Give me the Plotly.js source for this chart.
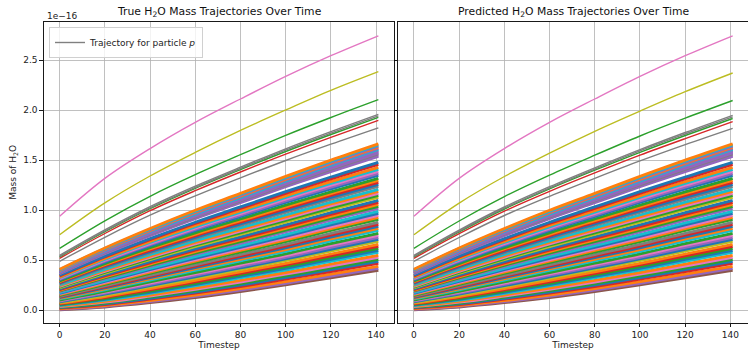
<!DOCTYPE html>
<html><head><meta charset="utf-8">
<script src="https://cdn.plot.ly/plotly-3.0.1.min.js"></script>
<style>html,body{margin:0;padding:0;background:#fff}#chart{width:748px;height:350px}</style>
</head><body><div id="chart"></div>
<script>
// ---- data (mass in units of 1e-16) ----
const timesteps = [0, 20, 40, 60, 80, 100, 120, 141];

// large, well-separated particles (True)
const trueP1 = [0.94, 1.319, 1.617, 1.879, 2.113, 2.339, 2.546, 2.745];
const trueP2 = [0.756, 1.074, 1.343, 1.579, 1.799, 2.003, 2.199, 2.386];
const trueP3 = [0.62, 0.895, 1.14, 1.356, 1.556, 1.749, 1.928, 2.106];
const trueP4 = [0.55, 0.804, 1.036, 1.241, 1.431, 1.615, 1.787, 1.96];
const trueP5 = [0.54, 0.793, 1.025, 1.228, 1.418, 1.601, 1.772, 1.945];
const trueP6 = [0.535, 0.786, 1.016, 1.219, 1.407, 1.588, 1.758, 1.93];
const trueP7 = [0.52, 0.768, 0.996, 1.196, 1.383, 1.562, 1.73, 1.90];
const trueP8 = [0.49, 0.73, 0.951, 1.144, 1.324, 1.498, 1.661, 1.825];

// same particles (Predicted)
const predP1 = [0.94, 1.319, 1.617, 1.879, 2.113, 2.339, 2.546, 2.745];
const predP2 = [0.756, 1.072, 1.338, 1.572, 1.79, 1.992, 2.186, 2.373];
const predP3 = [0.62, 0.893, 1.137, 1.352, 1.551, 1.743, 1.921, 2.098];
const predP4 = [0.55, 0.802, 1.033, 1.236, 1.425, 1.607, 1.778, 1.95];
const predP5 = [0.54, 0.791, 1.022, 1.224, 1.412, 1.594, 1.763, 1.935];
const predP6 = [0.535, 0.784, 1.013, 1.214, 1.401, 1.58, 1.748, 1.918];
const predP7 = [0.52, 0.766, 0.992, 1.19, 1.374, 1.551, 1.717, 1.886];
const predP8 = [0.49, 0.728, 0.948, 1.14, 1.32, 1.494, 1.657, 1.82];

// dense band of smaller particles (same in both panels)
const bandMass = [
 [.005,.033,.076,.127,.187,.254,.325,.40],
 [.010,.040,.086,.140,.201,.270,.343,.42],
 [.015,.048,.096,.152,.216,.287,.361,.44],
 [.022,.058,.111,.171,.238,.311,.388,.47],
 [.026,.065,.120,.183,.252,.327,.406,.49],
 [.031,.073,.131,.196,.268,.344,.425,.51],
 [.036,.081,.142,.209,.283,.361,.443,.53],
 [.041,.089,.153,.223,.300,.378,.461,.55],
 [.048,.101,.169,.244,.324,.403,.489,.58],
 [.053,.109,.180,.256,.339,.420,.508,.60],
 [.059,.118,.192,.270,.354,.437,.526,.62],
 [.065,.128,.204,.285,.369,.454,.545,.64],
 [.071,.138,.216,.299,.385,.470,.563,.66],
 [.079,.150,.234,.319,.407,.496,.592,.69],
 [.085,.161,.246,.334,.423,.513,.610,.71],
 [.091,.171,.259,.349,.439,.529,.629,.73],
 [.097,.181,.272,.363,.455,.547,.648,.75],
 [.103,.190,.284,.377,.471,.564,.667,.77],
 [.113,.204,.302,.398,.494,.590,.695,.80],
 [.120,.215,.314,.413,.510,.607,.714,.82],
 [.127,.225,.326,.427,.526,.625,.732,.84],
 [.133,.233,.338,.441,.542,.642,.751,.86],
 [.140,.244,.350,.455,.557,.659,.770,.88],
 [.150,.259,.369,.477,.582,.686,.798,.91],
 [.157,.268,.381,.492,.598,.704,.817,.93],
 [.163,.278,.393,.505,.613,.721,.835,.95],
 [.170,.288,.406,.520,.630,.739,.854,.97],
 [.177,.298,.418,.536,.646,.757,.874,.99],
 [.187,.314,.437,.558,.670,.783,.902,1.02],
 [.193,.323,.450,.572,.687,.801,.921,1.04],
 [.200,.333,.462,.587,.703,.819,.940,1.06],
 [.207,.343,.474,.601,.719,.836,.959,1.08],
 [.214,.353,.487,.615,.735,.855,.977,1.10],
 [.225,.369,.506,.637,.759,.881,1.006,1.13],
 [.232,.379,.517,.651,.775,.898,1.024,1.15],
 [.239,.389,.530,.665,.791,.917,1.043,1.17],
 [.246,.399,.542,.679,.807,.934,1.063,1.19],
 [.254,.410,.556,.695,.824,.953,1.081,1.21],
 [.264,.425,.574,.716,.848,.979,1.109,1.24],
 [.271,.435,.586,.730,.863,.997,1.128,1.26],
 [.279,.446,.600,.745,.881,1.016,1.148,1.28],
 [.286,.456,.613,.760,.896,1.033,1.167,1.30],
 [.293,.467,.626,.775,.913,1.052,1.185,1.32],
 [.304,.482,.644,.796,.937,1.078,1.214,1.35],
 [.311,.491,.655,.809,.952,1.095,1.232,1.37],
 [.318,.500,.666,.822,.967,1.111,1.251,1.39],
 [.325,.509,.678,.835,.981,1.128,1.269,1.41],
 [.332,.519,.689,.848,.996,1.145,1.287,1.43],
 [.343,.533,.706,.868,1.019,1.170,1.315,1.46],
 [.350,.542,.717,.881,1.034,1.186,1.333,1.48],
 [.365,.565,.747,.917,1.076,1.235,1.387,1.54],
 [.369,.570,.753,.925,1.084,1.244,1.397,1.551],
 [.373,.575,.760,.932,1.093,1.254,1.408,1.563],
 [.377,.580,.766,.940,1.101,1.263,1.418,1.574],
 [.381,.586,.772,.947,1.109,1.272,1.428,1.585],
 [.385,.591,.779,.955,1.118,1.282,1.439,1.597],
 [.390,.597,.786,.962,1.127,1.291,1.450,1.608],
 [.394,.602,.792,.970,1.135,1.301,1.460,1.619],
 [.398,.608,.799,.978,1.144,1.310,1.471,1.631],
 [.402,.613,.805,.985,1.152,1.320,1.481,1.642],
 [.406,.618,.811,.992,1.160,1.329,1.491,1.653],
 [.410,.623,.818,1.000,1.169,1.339,1.502,1.665]
];

const xTicks = [0, 20, 40, 60, 80, 100, 120, 140];
const yTicks = [0, 0.5, 1.0, 1.5, 2.0, 2.5];
const yTickText = ['0.0', '0.5', '1.0', '1.5', '2.0', '2.5'];

// ---- styles ----
const tab10 = ['#1f77b4','#ff7f0e','#2ca02c','#d62728','#9467bd','#8c564b','#e377c2','#7f7f7f','#bcbd22','#17becf'];
const outlierColors = [6, 8, 2, 7, 7, 2, 3, 7];
const bandColorSeq = [5,4,1,3,0,2,6,1,9,0, 2,3,1,8,0,4,6,2,9,1, 0,3,7,2,1,6,0,9,4,2, 1,3,0,8,2,6,1,9,7,0, 3,1,2,0,4,6,9,1,3,0, 4,4,7,4,4,4,9,4,1,4,9,1];
const FONT = 'DejaVu Sans, sans-serif';

const trueOut = [trueP1,trueP2,trueP3,trueP4,trueP5,trueP6,trueP7,trueP8];
const predOut = [predP1,predP2,predP3,predP4,predP5,predP6,predP7,predP8];

const traces = [];
function addPanel(outliers, xa, ya) {
  bandMass.forEach((m, k) => {
    traces.push({x: timesteps, y: m, xaxis: xa, yaxis: ya, mode: 'lines', showlegend: false, hoverinfo: 'skip',
      line: {color: tab10[bandColorSeq[k % bandColorSeq.length]], width: 2.8, shape: 'spline', smoothing: 1}});
  });
  outliers.slice().reverse().forEach((m, r) => {
    const i = outliers.length - 1 - r;
    traces.push({x: timesteps, y: m, xaxis: xa, yaxis: ya, mode: 'lines', showlegend: false, hoverinfo: 'skip',
      line: {color: tab10[outlierColors[i]], width: 1.4, shape: 'spline', smoothing: 1}});
  });
}
addPanel(trueOut, 'x', 'y');
addPanel(predOut, 'x2', 'y2');
traces.push({x: [null], y: [null], xaxis: 'x', yaxis: 'y', mode: 'lines', name: 'Trajectory for particle <i>p</i>',
  line: {color: '#808080', width: 1.4}, showlegend: true});

const W = 748, H = 350;
const axBase = {
  showline: true, linecolor: '#000', linewidth: 0.9, ticks: 'outside', ticklen: 3.5, tickwidth: 0.9, tickcolor: '#000',
  showgrid: true, gridcolor: '#b0b0b0', gridwidth: 0.8, zeroline: false,
  tickfont: {family: FONT, size: 9, color: '#222'}
};
const layout = {
  width: W, height: H, margin: {l: 0, r: 0, t: 0, b: 0}, paper_bgcolor: '#fff', plot_bgcolor: '#fff',
  font: {family: FONT, size: 9, color: '#222'},
  xaxis: Object.assign({}, axBase, {domain: [43.7/W, 394.3/W], range: [-7.05, 148.05], tickvals: xTicks, mirror: true, anchor: 'y',
    title: {text: 'Timestep', font: {family: FONT, size: 9}, standoff: 2}}),
  yaxis: Object.assign({}, axBase, {domain: [(H-322.7)/H, (H-22)/H], range: [-0.124, 2.883], tickvals: yTicks, ticktext: yTickText, mirror: true, anchor: 'x',
    title: {text: 'Mass of H<sub>2</sub>O', font: {family: FONT, size: 9}, standoff: 4}}),
  xaxis2: Object.assign({}, axBase, {domain: [398/W, 1], range: [-7.05, 147.78], tickvals: xTicks, mirror: true, anchor: 'y2',
    title: {text: 'Timestep', font: {family: FONT, size: 9}, standoff: 2}}),
  yaxis2: Object.assign({}, axBase, {domain: [(H-322.7)/H, (H-22)/H], range: [-0.124, 2.883], tickvals: yTicks, showticklabels: false, mirror: false, anchor: 'x2'}),
  showlegend: true,
  legend: {x: 49/W, y: 1 - 27/H, xanchor: 'left', yanchor: 'top', bgcolor: 'rgba(255,255,255,0.8)', bordercolor: '#d0d0d0', borderwidth: 1,
    font: {family: FONT, size: 9, color: '#222'}, itemwidth: 30},
  annotations: [
    {xref: 'x domain', yref: 'paper', x: 0.5, y: 1 - 12.5/H, xanchor: 'center', yanchor: 'middle', showarrow: false,
     text: 'True H<sub>2</sub>O Mass Trajectories Over Time', font: {family: FONT, size: 10.8, color: '#111'}},
    {xref: 'paper', yref: 'paper', x: (398 + 175.3)/W, y: 1 - 12.5/H, xanchor: 'center', yanchor: 'middle', showarrow: false,
     text: 'Predicted H<sub>2</sub>O Mass Trajectories Over Time', font: {family: FONT, size: 10.8, color: '#111'}},
    {xref: 'paper', yref: 'paper', x: 45/W, y: 1 - 16/H, xanchor: 'left', yanchor: 'middle', showarrow: false,
     text: '1e\u221216', font: {family: FONT, size: 9, color: '#222'}}
  ]
};
Plotly.newPlot('chart', traces, layout, {displayModeBar: false, staticPlot: true});
</script></body></html>
